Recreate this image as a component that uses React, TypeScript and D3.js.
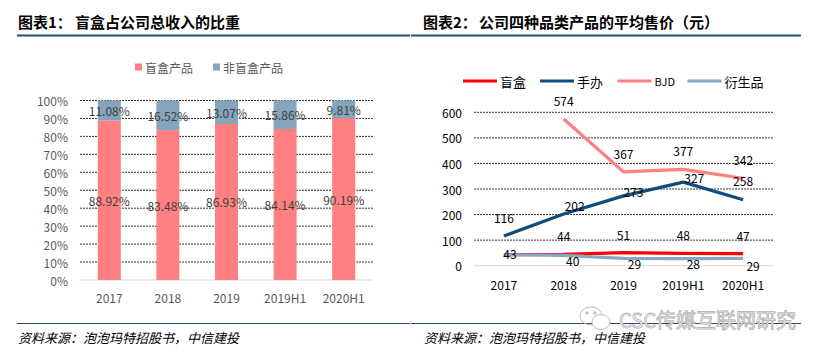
import React from "react";
import * as d3 from "d3";

// ---------- data ----------
const categories = ["2017", "2018", "2019", "2019H1", "2020H1"];
const blindBoxShare = [88.92, 83.48, 86.93, 84.14, 90.19];
const nonBlindBoxShare = [11.08, 16.52, 13.07, 15.86, 9.81];
const shareTicks = [0, 10, 20, 30, 40, 50, 60, 70, 80, 90, 100];

const priceBlindBox: (number | null)[] = [43, 44, 51, 48, 47];
const priceFigure: (number | null)[] = [116, 202, 273, 327, 258];
const priceBJD: (number | null)[] = [null, 574, 367, 377, 342];
const priceDerivative: (number | null)[] = [43, 40, 29, 28, 29];
const priceTicks = [0, 100, 200, 300, 400, 500, 600];

// label nudges (dx, dy) relative to each point; null = label hidden
type Off = [number, number] | null;
const offBlindBox: Off[] = [null, [0, -18.5], [0, -18.5], [0, -18.5], [0, -18.5]];
const offFigure: Off[] = [[0, -19], [11, -9], [10, -4], [11, -5], [0, -19]];
const offBJD: Off[] = [null, [0, -18.5], [0, -18.5], [0, -18.5], [0, -18.5]];
const offDerivative: Off[] = [[6, -1.5], [9, 5.5], [11, 5], [10, 5], [10, 7.5]];

const FONT = "'Noto Sans CJK SC', 'Noto Sans', sans-serif";
const BLUE_RULE = "#1F4E79";

const series = [
  { name: "盲盒", values: priceBlindBox, color: "#FF0000", offs: offBlindBox },
  { name: "手办", values: priceFigure, color: "#114C7A", offs: offFigure },
  { name: "BJD", values: priceBJD, color: "#FF8080", offs: offBJD },
  { name: "衍生品", values: priceDerivative, color: "#86A8C2", offs: offDerivative },
];

function LeftChart() {
  const x = d3.scaleBand<string>().domain(categories).range([80, 373]).paddingInner(0.607).paddingOuter(0.3035);
  const y = d3.scaleLinear().domain([0, 100]).range([280, 100.5]);
  const red = "#FF8080";
  const blue = "#84A5BD";
  return (
    <g>
      {/* legend */}
      <rect x={135} y={63.5} width={7} height={7} fill={red} />
      <text x={145} y={67} fontSize={12} fill="#595959" dominantBaseline="central" fontFamily={FONT}>盲盒产品</text>
      <rect x={213} y={63.5} width={7} height={7} fill={blue} />
      <text x={223} y={67} fontSize={12} fill="#595959" dominantBaseline="central" fontFamily={FONT}>非盲盒产品</text>
      {/* grid */}
      {shareTicks.map((t) => (
        <g key={t}>
          {t > 0 ? (
            <line x1={80} x2={373} y1={y(t)} y2={y(t)} stroke="#000" strokeWidth={0.8} strokeDasharray="2 1" />
          ) : (
            <line x1={80} x2={373} y1={y(t)} y2={y(t)} stroke="#D9D9D9" strokeWidth={1} />
          )}
          <text x={68} y={y(t)} textAnchor="end" dominantBaseline="central" fontSize={12} fill="#595959" fontFamily={FONT}>
            {t}%
          </text>
        </g>
      ))}
      {/* bars */}
      {categories.map((c, i) => {
        const x0 = x(c)!;
        const bw = x.bandwidth();
        const yTop = y(100);
        const ySplit = y(blindBoxShare[i]);
        return (
          <g key={c}>
            <rect x={x0} y={ySplit} width={bw} height={y(0) - ySplit} fill={red} />
            <rect x={x0} y={yTop} width={bw} height={ySplit - yTop} fill={blue} />
            <text x={x0 + bw / 2} y={(yTop + ySplit) / 2} textAnchor="middle" dominantBaseline="central" fontSize={12} fill="#404040" fontFamily={FONT}>
              {nonBlindBoxShare[i].toFixed(2)}%
            </text>
            <text x={x0 + bw / 2} y={(ySplit + y(0)) / 2} textAnchor="middle" dominantBaseline="central" fontSize={12} fill="#404040" fontFamily={FONT}>
              {blindBoxShare[i].toFixed(2)}%
            </text>
            <text x={x0 + bw / 2} y={297} textAnchor="middle" dominantBaseline="central" fontSize={12} fill="#595959" fontFamily={FONT}>
              {c}
            </text>
          </g>
        );
      })}
    </g>
  );
}

function RightChart() {
  const x = d3.scalePoint<string>().domain(categories).range([474, 773]).padding(0.5);
  const y = d3.scaleLinear().domain([0, 600]).range([265.7, 112.3]);
  const line = d3
    .line<number | null>()
    .defined((d) => d !== null)
    .x((_, i) => x(categories[i])!)
    .y((d) => y(d as number));
  const legendX = [463, 540, 617.5, 687.5];
  return (
    <g>
      {/* legend */}
      {series.map((s, i) => (
        <g key={s.name}>
          <line x1={legendX[i]} x2={legendX[i] + 34} y1={81} y2={81} stroke={s.color} strokeWidth={3.2} />
          <text x={legendX[i] + 37} y={81} dominantBaseline="central" fontSize={s.name === "BJD" ? 11 : 13} fill="#000" fontFamily={FONT}>
            {s.name}
          </text>
        </g>
      ))}
      {/* grid */}
      {priceTicks.map((t) => (
        <g key={t}>
          {t > 0 ? (
            <line x1={474} x2={773} y1={y(t)} y2={y(t)} stroke="#000" strokeWidth={0.8} strokeDasharray="2 1" />
          ) : (
            <line x1={474} x2={773} y1={y(t)} y2={y(t)} stroke="#D9D9D9" strokeWidth={1} />
          )}
          <text x={462} y={y(t)} textAnchor="end" dominantBaseline="central" fontSize={12} fill="#000" fontFamily={FONT}>
            {t}
          </text>
        </g>
      ))}
      {categories.map((c) => (
        <text key={c} x={x(c)!} y={284} textAnchor="middle" dominantBaseline="central" fontSize={12} fill="#000" fontFamily={FONT}>
          {c}
        </text>
      ))}
      {/* lines */}
      {series.map((s) => (
        <path key={s.name} d={line(s.values) || ""} fill="none" stroke={s.color} strokeWidth={3.2} strokeLinejoin="round" />
      ))}
      {/* labels */}
      {series.map((s) =>
        s.values.map((v, i) => {
          const o = s.offs[i];
          if (v === null || !o) return null;
          return (
            <text key={s.name + i} x={x(categories[i])! + o[0]} y={y(v) + o[1]} textAnchor="middle" dominantBaseline="central" fontSize={12} fill="#000" fontFamily={FONT}>
              {v}
            </text>
          );
        })
      )}
    </g>
  );
}

export default function App() {
  return (
    <svg width={822} height={357} style={{ position: "absolute", left: 0, top: 0, background: "#fff" }}>
      <rect x={0} y={0} width={822} height={357} fill="#fff" />
      {/* titles */}
      <text x={18} y={28} fontSize={15} fontWeight="bold" fontFamily={FONT} fill="#000">图表1：</text>
      <text x={75} y={28} fontSize={15} fontWeight="bold" fontFamily={FONT} fill="#000">盲盒占公司总收入的比重</text>
      <text x={423} y={28} fontSize={15} fontWeight="bold" fontFamily={FONT} fill="#000">图表2：</text>
      <text x={479} y={28} fontSize={15} fontWeight="bold" fontFamily={FONT} fill="#000">公司四种品类产品的平均售价（元）</text>
      <line x1={17} x2={410} y1={35.5} y2={35.5} stroke={BLUE_RULE} strokeWidth={2.2} />
      <line x1={411} x2={801} y1={35.5} y2={35.5} stroke={BLUE_RULE} strokeWidth={2.2} />
      <LeftChart />
      <RightChart />
      {/* footer */}
      <line x1={17} x2={410} y1={323.5} y2={323.5} stroke={BLUE_RULE} strokeWidth={1} />
      <line x1={411} x2={801} y1={323.5} y2={323.5} stroke={BLUE_RULE} strokeWidth={1} />
      <text x={18} y={343} fontSize={13} fontStyle="italic" fontFamily={FONT} fill="#000">资料来源：泡泡玛特招股书，中信建投</text>
      <text x={424} y={343} fontSize={13} fontStyle="italic" fontFamily={FONT} fill="#000">资料来源：泡泡玛特招股书，中信建投</text>
      {/* watermark */}
      <g fill="none" stroke="#BDBDBD" strokeWidth={1}>
        <ellipse cx={591} cy={316} rx={11} ry={9} />
        <ellipse cx={601} cy={322} rx={9} ry={7.5} fill="#fff" />
        <circle cx={587} cy={313} r={1.2} fill="#BDBDBD" />
        <circle cx={595} cy={313} r={1.2} fill="#BDBDBD" />
      </g>
      <text x={619} y={328} fontSize={20} fontFamily={FONT} fill="#fff" stroke="#B5B5B5" strokeWidth={0.9}>
        CSC传媒互联网研究
      </text>
    </svg>
  );
}
